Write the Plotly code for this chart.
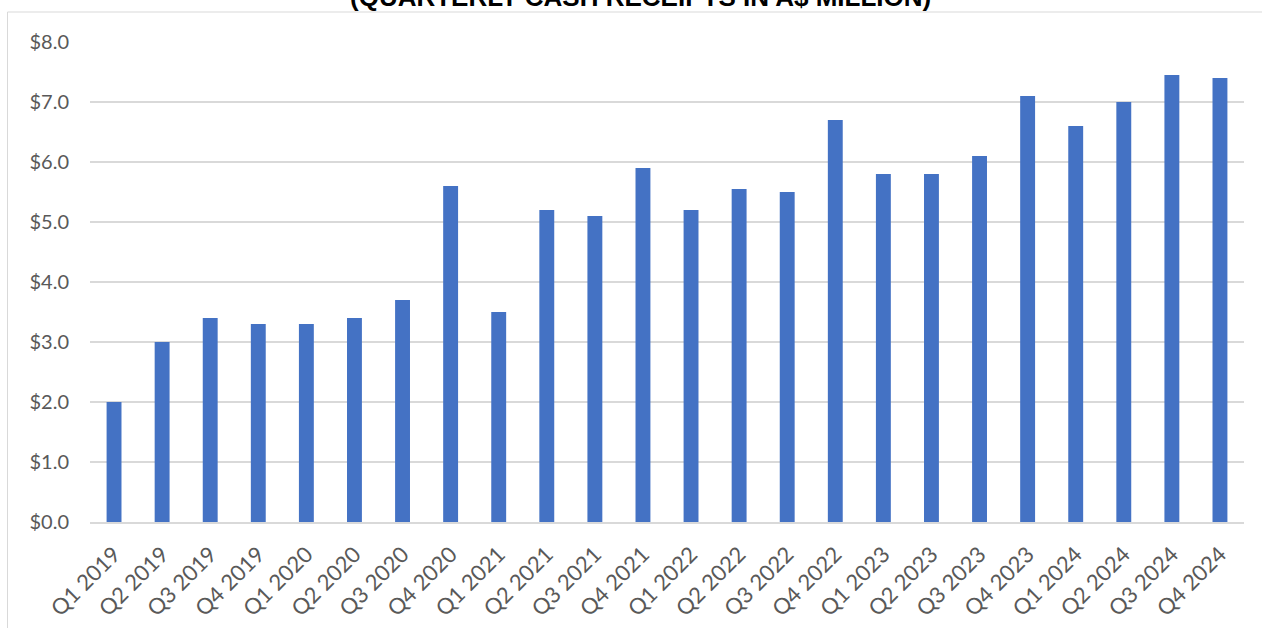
import plotly.graph_objects as go

quarters = ["Q1 2019", "Q2 2019", "Q3 2019", "Q4 2019",
            "Q1 2020", "Q2 2020", "Q3 2020", "Q4 2020",
            "Q1 2021", "Q2 2021", "Q3 2021", "Q4 2021",
            "Q1 2022", "Q2 2022", "Q3 2022", "Q4 2022",
            "Q1 2023", "Q2 2023", "Q3 2023", "Q4 2023",
            "Q1 2024", "Q2 2024", "Q3 2024", "Q4 2024"]
receipts = [2.0, 3.0, 3.4, 3.3,
            3.3, 3.4, 3.7, 5.6,
            3.5, 5.2, 5.1, 5.9,
            5.2, 5.55, 5.5, 6.7,
            5.8, 5.8, 6.1, 7.1,
            6.6, 7.0, 7.45, 7.4]
title_text = "(QUARTERLY CASH RECEIPTS IN A$ MILLION)"
y_ticks = [0, 1, 2, 3, 4, 5, 6, 7, 8]

W, H = 1262, 628
L, R, T, B = 90, 18, 42, 106
pw, ph = W - L - R, H - T - B

def px(x):
    return (x - L) / pw

def py(y):
    return (H - B - y) / ph

fig = go.Figure(go.Bar(
    x=quarters, y=receipts,
    marker=dict(color="#4472C4", line=dict(width=0)),
    width=0.31,
))

fig.update_layout(
    width=W, height=H,
    margin=dict(l=L, r=R, t=T, b=B),
    paper_bgcolor="white", plot_bgcolor="white",
    showlegend=False,
    font=dict(family="Lato, Open Sans, sans-serif", color="#595959", size=20),
    xaxis=dict(
        tickangle=-45, showgrid=False, showline=True, linecolor="#D9D9D9",
        linewidth=1.5, ticks="", tickfont=dict(size=22, color="#595959"),
        ticklabelstandoff=9, automargin=False,
        range=[-0.5, len(quarters) - 0.5],
    ),
    yaxis=dict(
        range=[0, 8], tickvals=y_ticks,
        ticktext=[f"${v:.1f}" for v in y_ticks],
        showgrid=True, gridcolor="#D9D9D9", gridwidth=1.5,
        zeroline=False, showline=False, ticks="",
        ticklabelstandoff=20, automargin=False,
        tickfont=dict(size=20, color="#595959"),
    ),
    shapes=[dict(
        type="rect", xref="paper", yref="paper",
        x0=px(7.5), x1=px(1275), y0=py(640), y1=py(12),
        line=dict(color="#D9D9D9", width=1), fillcolor="rgba(0,0,0,0)",
        layer="below",
    )],
    annotations=[dict(
        text=f"<b>{title_text}</b>", xref="paper", yref="paper",
        x=px(640), y=py(-3), xanchor="center", yanchor="middle",
        showarrow=False,
        font=dict(family="Liberation Sans, Arial, sans-serif", size=26, color="black"),
    )],
)

fig.write_html("out.html", config={"displayModeBar": False},
               post_script="document.body.style.margin='0';")
